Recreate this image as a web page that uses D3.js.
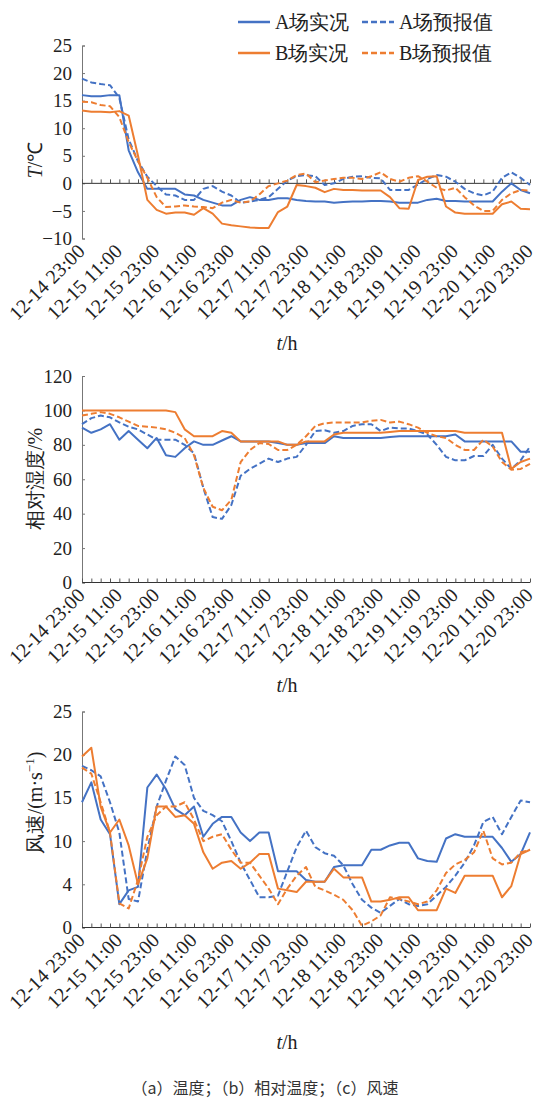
<!DOCTYPE html>
<html><head><meta charset="utf-8">
<script src="https://cdn.jsdelivr.net/npm/d3@7"></script>
<style>body{margin:0;background:#fff}</style>
</head><body><svg id="c" width="537" height="1101"></svg>
<script>
const categories = [
"12-14 23:00","12-15 02:00","12-15 05:00","12-15 08:00","12-15 11:00","12-15 14:00","12-15 17:00","12-15 20:00",
"12-15 23:00","12-16 02:00","12-16 05:00","12-16 08:00","12-16 11:00","12-16 14:00","12-16 17:00","12-16 20:00",
"12-16 23:00","12-17 02:00","12-17 05:00","12-17 08:00","12-17 11:00","12-17 14:00","12-17 17:00","12-17 20:00",
"12-17 23:00","12-18 02:00","12-18 05:00","12-18 08:00","12-18 11:00","12-18 14:00","12-18 17:00","12-18 20:00",
"12-18 23:00","12-19 02:00","12-19 05:00","12-19 08:00","12-19 11:00","12-19 14:00","12-19 17:00","12-19 20:00",
"12-19 23:00","12-20 02:00","12-20 05:00","12-20 08:00","12-20 11:00","12-20 14:00","12-20 17:00","12-20 20:00",
"12-20 23:00"];
const xTickLabels = ["12-14 23:00","12-15 11:00","12-15 23:00","12-16 11:00","12-16 23:00","12-17 11:00","12-17 23:00",
"12-18 11:00","12-18 23:00","12-19 11:00","12-19 23:00","12-20 11:00","12-20 23:00"];

// (a) temperature
const tempA_obs = [16,15.8,15.8,16,16,6,2,-1,-1,-1,-1,-2,-2.2,-3,-3.5,-4,-4,-3,-2.5,-3,-3,-2.7,-2.7,-3,-3.2,-3.3,-3.3,-3.5,-3.4,-3.3,-3.3,-3.2,-3.2,-3.3,-3.5,-3.5,-3.5,-3,-2.8,-3.2,-3.2,-3.3,-3.3,-3.3,-3.3,-1.5,0,-1.2,-1.8];
const tempA_fc  = [19,18.3,18,17.8,15.5,8,4,1.2,-0.5,-2,-2.2,-3,-3,-1,-0.5,-1.5,-2.2,-3.5,-3.3,-3,-2.5,-1,0.5,1.3,1.5,1.3,-0.3,0,0.8,1.2,1.3,1,0.9,-1.2,-1.2,-1.2,-0.2,0.8,1.5,1.2,0.3,-1,-1.8,-2.2,-1.5,1,2,1,-0.3];
const tempB_obs = [13.2,13,13,12.9,13.1,12.3,5,-3,-4.8,-5.5,-5.3,-5.3,-5.7,-4.5,-5.5,-7.3,-7.6,-7.8,-8,-8.1,-8.1,-5.2,-4.2,-0.3,-0.5,-0.8,-1.6,-1,-1.2,-1.2,-1.3,-1.3,-1.3,-2.5,-4.5,-4.6,0.6,1.2,1.3,-4.2,-5.3,-5.5,-5.5,-5.5,-5.5,-3.8,-3.3,-4.6,-4.7];
const tempB_fc  = [14.8,14.7,14.2,14,12,7.5,4,1,-2.5,-4.3,-4.2,-4,-4.2,-4.3,-4.5,-3.5,-3,-3.5,-3.3,-2,-0.5,0,0.5,1.5,1.8,0.2,0.5,0.8,1,1,0.8,1.3,2,0.8,0.3,1,1.3,0.3,-0.8,-1.3,-0.8,-2.5,-4,-5,-5,-3,-1.8,-1.2,-1.3];
const tempTicks = [-10,-5,0,5,10,15,20,25];
const tempTickLabels = ["\u221210","\u22125","0","5","10","15","20","25"];

// (b) relative humidity
const rhA_obs = [90,87,89,92,83,88,83,78,84,74,73,78,82,80,80,82.5,85,82,82,82,82,81,80,80,81,81,81,85,84,84,84,84,84,84.5,85,85,85,85,85,85,86,82,82,82,82,82,82,76,76];
const rhA_fc  = [92,95.5,97,96,93,90.5,89,86,83,83,83,80,75,55,38,37,45,62,66,69,72,70,72,73,80,88,88.5,87,88,91,92,92,88,90,89.5,89.5,88,86,80,73,71,71,73.5,73.5,80,72,66,71,79];
const rhB_obs = [100,100,100,100,100,100,100,100,100,100,99,89,85,85,85,88,87,82,82,82,82,82,80,80,82,82,82,86,87,87,87,87,87,87.5,88,88,88,88,88,88,88,87,87,87,87,87,66,70,72];
const rhB_fc  = [97,98,99,98,96,93.5,91,90.5,90,89,87,84,74,55,44,42,48,70,77,81,80.5,77,77,80,85,91,92.5,93,93,93,93,94,94.5,93,93.5,92,90,87,85,84,80,77,77,83,79,70,65.5,66,69];
const rhTicks = [0,20,40,60,80,100,120];
const rhTickLabels = ["0","20","40","60","80","100","120"];

// (c) wind speed
const windA_obs = [14.5,16.8,12.5,10.8,2.7,4.3,4.7,16.2,17.7,16,13.7,13,14,10.5,12,12.8,12.8,11,10,11,11,6.5,6.5,6.5,5.5,5.3,5.3,7,7.2,7.2,7.2,9,9,9.5,9.8,9.8,8,7.7,7.6,10.3,10.8,10.5,10.5,10.5,10.5,9.2,7.6,8.5,11];
const windA_fc  = [18.7,18.2,17.5,14.5,11,3.3,3,9,14,17,19.8,18.8,15,13.5,13,12.3,10,7.5,5.5,3.5,3.5,3.7,6.5,9.3,11.2,9.3,8.6,8.3,7.2,5,3.2,2.3,1.7,2.5,3.3,2.7,2.5,2.7,3.7,4.7,6,7.5,9.5,12.2,12.8,10.8,12.8,14.7,14.5];
const windB_obs = [19.8,20.8,14,11,12.5,9.5,5,8,14,14,12.8,13,12,8.7,6.8,7.5,7.7,6.8,7.5,8.5,8.5,4.5,4.3,4.1,5.3,5.3,5.3,6.8,5.8,5.8,5.8,3,3,3.2,3.5,3.5,2,2,2,4.5,4,6,6,6,6,3.5,4.8,8.5,9];
const windB_fc  = [18.5,17.8,14.5,11,2.8,2.2,5.5,10.5,13,14,14,14.5,12.5,10,10.5,10.8,9,7.5,7.5,6,4.5,2.7,4.5,6,7,4.7,4.3,3.8,3.2,2,0.2,0.7,1.4,3.5,3.3,3,2.7,3,4.3,6.3,7.3,7.8,8.7,11.2,8,7.3,7.5,8.7,9];
const windTicks = [0,5,10,15,20,25];
const windTickLabels = ["0","4","10","15","20","25"];

const seriesNames = ["A场实况","A场预报值","B场实况","B场预报值"];
const caption = "（a）温度；（b）相对温度；（c）风速";

const BLUE = "#4472c4", ORANGE = "#ed7d31";
const SERIF = '"Liberation Serif"';
const svg = d3.select("#c");

const X0 = 82, X1 = 530;
const x = d3.scalePoint().domain(categories).range([X0, X1]);

const styles = [
  {color: BLUE, dash: null},
  {color: BLUE, dash: "6,3"},
  {color: ORANGE, dash: null},
  {color: ORANGE, dash: "6,3"}
];

const panels = [
  {top: 45.5, bottom: 238.5, domain: [-10, 25], ticks: tempTicks, labels: tempTickLabels, axisAt: 0,
   series: [tempA_obs, tempA_fc, tempB_obs, tempB_fc], tY: 350, title: "T", titleY: 160},
  {top: 376, bottom: 582.5, domain: [0, 120], ticks: rhTicks, labels: rhTickLabels, axisAt: 0,
   series: [rhA_obs, rhA_fc, rhB_obs, rhB_fc], tY: 692, title: "rh", titleY: 479},
  {top: 711.5, bottom: 927.5, domain: [0, 25], ticks: windTicks, labels: windTickLabels, axisAt: 0,
   series: [windA_obs, windA_fc, windB_obs, windB_fc], tY: 1049, title: "wind", titleY: 803}
];

function serif(sel, size) {
  return sel.style("font-family", SERIF).style("font-size", size + "px").attr("fill", "#222");
}

panels.forEach(p => {
  const y = d3.scaleLinear().domain(p.domain).range([p.bottom, p.top]);
  const g = svg.append("g");

  // y axis
  const yAxis = d3.axisLeft(y).tickValues(p.ticks).tickSize(-3).tickPadding(10)
      .tickFormat((d, i) => p.labels[i]);
  const ya = g.append("g").attr("transform", `translate(${X0},0)`).call(yAxis);
  ya.attr("font-family", null).attr("font-size", null);
  ya.select(".domain").attr("stroke", "#777");
  ya.selectAll(".tick line").attr("stroke", "#777");
  serif(ya.selectAll("text"), 19);

  // x axis (at value 0)
  const y0 = y(p.axisAt);
  const xAxis = d3.axisBottom(x).tickSize(-4).tickFormat("");
  const xa = g.append("g").attr("transform", `translate(0,${y0})`).call(xAxis);
  xa.select(".domain").attr("stroke", "#333").attr("d", `M${X0},0H${X1}`);
  xa.selectAll(".tick line").attr("stroke", "#555");

  // x tick labels along the bottom
  serif(g.selectAll(".xl").data(xTickLabels).join("text")
    .attr("class", "xl")
    .attr("transform", d => `translate(${x(d) + 4},${p.bottom + 14}) rotate(-45)`)
    .attr("text-anchor", "end")
    .text(d => d), 20);

  // lines
  const line = d3.line().x((d, i) => x(categories[i])).y(d => y(d));
  p.series.forEach((s, k) => {
    g.append("path").datum(s)
      .attr("d", line)
      .attr("fill", "none")
      .attr("stroke", styles[k].color)
      .attr("stroke-width", 2)
      .attr("stroke-dasharray", styles[k].dash)
      .attr("stroke-linejoin", "round");
  });

  // x title t/h
  const tt = serif(g.append("text").attr("x", 287).attr("y", p.tY).attr("text-anchor", "middle"), 20);
  tt.append("tspan").style("font-style", "italic").text("t");
  tt.append("tspan").text("/h");

  // y title
  const yt = serif(g.append("text").attr("transform", `translate(42,${p.titleY}) rotate(-90)`)
    .attr("text-anchor", "middle"), 20);
  if (p.title === "T") {
    yt.append("tspan").style("font-style", "italic").text("T");
    yt.append("tspan").text("/℃");
  } else if (p.title === "rh") {
    yt.text("相对湿度/%");
  } else {
    yt.append("tspan").text("风速/(m·s");
    yt.append("tspan").style("font-size", "13px").attr("dy", -8).text("−1");
    yt.append("tspan").attr("dy", 8).text(")");
  }
});

// legend
const legendPos = [[238, 22], [362, 22], [238, 53], [362, 53]];
seriesNames.forEach((n, k) => {
  const [lx, ly] = legendPos[k];
  svg.append("line").attr("x1", lx).attr("x2", lx + 32).attr("y1", ly).attr("y2", ly)
    .attr("stroke", styles[k].color).attr("stroke-width", 2.5)
    .attr("stroke-dasharray", styles[k].dash);
  serif(svg.append("text").attr("x", lx + 37).attr("y", ly + 7).text(n), 20);
});

// caption
svg.append("text").attr("x", 265).attr("y", 1094).attr("text-anchor", "middle")
  .style("font-family", '"Noto Sans CJK SC"').style("font-size", "16px")
  .attr("fill", "#333").text(caption);
</script>
</body></html>
